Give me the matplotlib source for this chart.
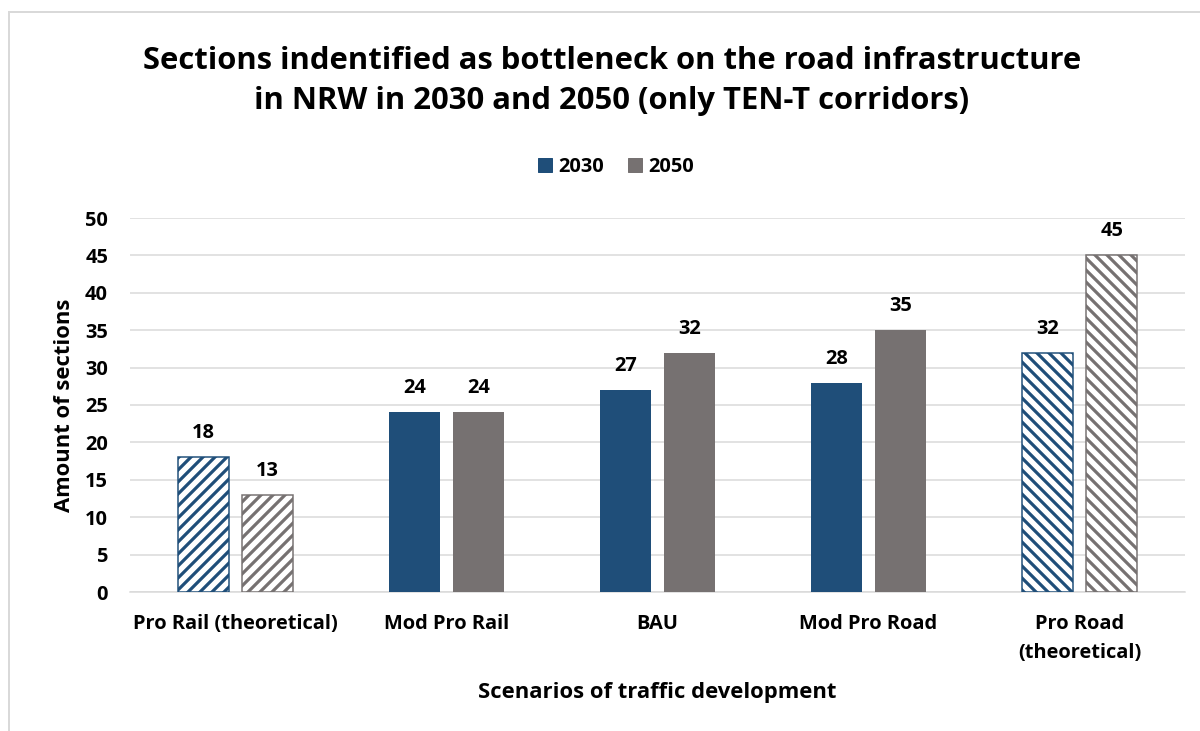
import numpy as np
import matplotlib
matplotlib.use("Agg")
import matplotlib.pyplot as plt
import matplotlib.patches as mpatches

plt.rcParams['font.family'] = ['Open Sans', 'DejaVu Sans']
plt.rcParams['font.weight'] = 'bold'
plt.rcParams['hatch.linewidth'] = 3.2

categories = ['Pro Rail (theoretical)', 'Mod Pro Rail', 'BAU', 'Mod Pro Road', 'Pro Road\n(theoretical)']
vals_2030 = [18, 24, 27, 28, 32]
vals_2050 = [13, 24, 32, 35, 45]
hatches = ['//', None, None, None, '\\\\']
yticks = [0, 5, 10, 15, 20, 25, 30, 35, 40, 45, 50]

c2030 = '#1F4E79'
c2050 = '#767171'
grid_c = '#D9D9D9'

W, H = 1200, 731
fig = plt.figure(figsize=(W / 72, H / 72), dpi=72)
ax = fig.add_axes([130 / W, 139 / H, 1055 / W, 374 / H])

# chart border
fig.patches.append(mpatches.Rectangle((9 / W, -0.1), 1.1, 1 - 12 / H + 0.1, transform=fig.transFigure,
                                      fill=False, edgecolor=grid_c, lw=2))

x = np.arange(len(categories))
bw = 0.242
off = 0.152
fs = 20

for i in range(len(categories)):
    h = hatches[i]
    for xv, v, c in [(x[i] - off, vals_2030[i], c2030), (x[i] + off, vals_2050[i], c2050)]:
        if h:
            ax.bar(xv, v, bw, facecolor='white', edgecolor=c, hatch=h, lw=1.5, zorder=3)
        else:
            ax.bar(xv, v, bw, color=c, zorder=3)
        ax.annotate(str(v), (xv, v), xytext=(0, 24), textcoords='offset points',
                    ha='center', va='center', fontsize=fs, fontweight='bold')

ax.set_xlim(-0.5, len(categories) - 0.5)
ax.set_ylim(0, 50)
ax.set_yticks(yticks)
ax.set_yticklabels([str(t) for t in yticks], fontsize=fs, fontweight='bold')
ax.set_xticks(x)
ax.set_xticklabels(categories, fontsize=fs, fontweight='bold', linespacing=1.6)
ax.tick_params(axis='both', length=0)
ax.tick_params(axis='y', pad=22)
ax.tick_params(axis='x', pad=22)
ax.yaxis.grid(True, color=grid_c, lw=1.5, zorder=0)
for s in ['top', 'right', 'left']:
    ax.spines[s].set_visible(False)
ax.spines['bottom'].set_color(grid_c)
ax.spines['bottom'].set_linewidth(1.5)

ax.set_ylabel('Amount of sections', fontsize=22, fontweight='bold', labelpad=10)
ax.set_xlabel('Scenarios of traffic development', fontsize=22, fontweight='bold', labelpad=19)

fig.text(612 / W, 1 - 81 / H, 'Sections indentified as bottleneck on the road infrastructure\nin NRW in 2030 and 2050 (only TEN-T corridors)',
         ha='center', va='center', fontsize=31, fontweight='bold', linespacing=1.43)

legend_elements = [mpatches.Patch(color=c2030, label='2030'),
                   mpatches.Patch(color=c2050, label='2050')]
fig.legend(handles=legend_elements, loc='center', bbox_to_anchor=(616 / W, 1 - 167 / H), ncol=2,
           frameon=False, prop={'size': fs, 'weight': 'bold'}, handlelength=0.7, handleheight=0.7,
           handletextpad=0.3, columnspacing=1.2)

fig.savefig('out.png', dpi=72)
